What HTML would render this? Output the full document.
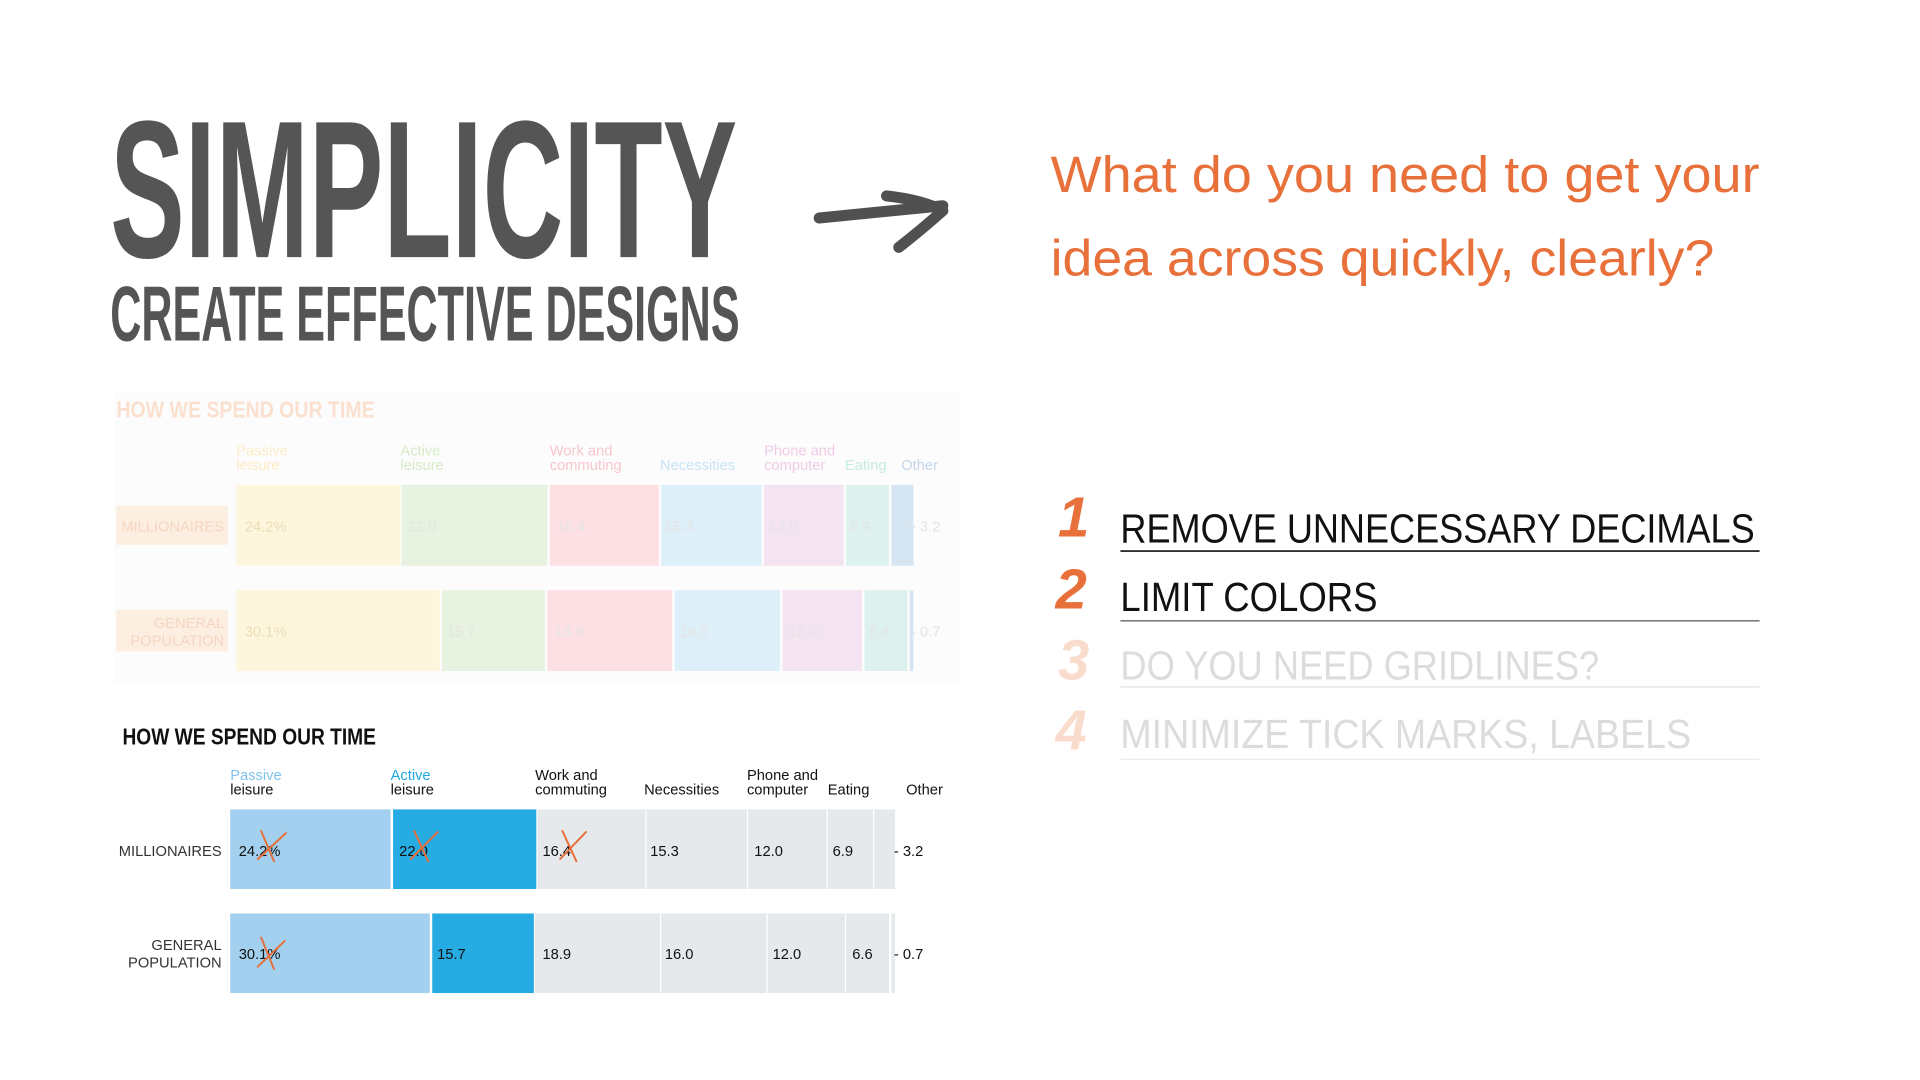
<!DOCTYPE html>
<html><head><meta charset="utf-8"><style>
html,body{margin:0;padding:0;background:#fff;width:1920px;height:1080px;overflow:hidden}
svg{display:block}
text{font-family:"Liberation Sans",sans-serif}
</style></head><body>
<svg width="1920" height="1080" viewBox="0 0 1568 882" xmlns="http://www.w3.org/2000/svg">
<rect width="1568" height="882" fill="#fff"/>
<!-- titles -->
<text x="90" y="210" font-size="160" font-weight="bold" fill="#555" textLength="512" lengthAdjust="spacingAndGlyphs">SIMPLICITY</text>
<text x="90" y="278" font-size="64" font-weight="bold" fill="#555" textLength="514" lengthAdjust="spacingAndGlyphs">CREATE  EFFECTIVE  DESIGNS</text>
<!-- arrow -->
<path d="M669 178 L770 168" stroke="#505050" stroke-width="9" stroke-linecap="round" fill="none"/>
<path d="M724 160 Q752 163 770 172 Q752 188 734 202" stroke="#505050" stroke-width="9" stroke-linecap="round" stroke-linejoin="round" fill="none"/>
<!-- question -->
<text x="858" y="157" font-size="42" fill="#e8703a" textLength="579" lengthAdjust="spacingAndGlyphs">What do you need to get your</text>
<text x="858" y="225" font-size="42" fill="#e8703a" textLength="542" lengthAdjust="spacingAndGlyphs">idea across quickly, clearly?</text>
<!-- list -->
<g font-style="italic" font-weight="bold" font-size="46">
<text x="864" y="438" fill="#e8703a">1</text>
<text x="862" y="497" fill="#e8703a">2</text>
<text x="864" y="555" fill="#fadccd">3</text>
<text x="862" y="612" fill="#fadccd">4</text>
</g>
<text x="915" y="443" font-size="33" fill="#111" textLength="518" lengthAdjust="spacingAndGlyphs">REMOVE UNNECESSARY DECIMALS</text>
<line x1="915" y1="450" x2="1437" y2="450" stroke="#111" stroke-width="1.3"/>
<text x="915" y="499" font-size="33" fill="#111" textLength="210" lengthAdjust="spacingAndGlyphs">LIMIT COLORS</text>
<line x1="915" y1="507" x2="1437" y2="507" stroke="#666" stroke-width="1.2"/>
<text x="915" y="555" font-size="33" fill="#dcdcdc" textLength="391" lengthAdjust="spacingAndGlyphs">DO YOU NEED GRIDLINES?</text>
<line x1="915" y1="561" x2="1437" y2="561" stroke="#ddd" stroke-width="1"/>
<text x="915" y="611" font-size="33" fill="#dcdcdc" textLength="466" lengthAdjust="spacingAndGlyphs">MINIMIZE TICK MARKS, LABELS</text>
<line x1="915" y1="620" x2="1437" y2="620" stroke="#e6e6e6" stroke-width="1"/>

<!-- faded chart -->
<rect x="93" y="320" width="690" height="237" fill="#fcfcfc"/>
<text x="95" y="341" font-size="19" font-weight="bold" fill="#fbe0cf" textLength="211" lengthAdjust="spacingAndGlyphs">HOW WE SPEND OUR TIME</text>
<g font-size="12">
<text x="193" y="372" fill="#fdecc4">Passive</text><text x="193" y="384" fill="#fdecc4">leisure</text>
<text x="327" y="372" fill="#d6ebc8">Active</text><text x="327" y="384" fill="#d6ebc8">leisure</text>
<text x="449" y="372" fill="#f8c6cc">Work and</text><text x="449" y="384" fill="#f8c6cc">commuting</text>
<text x="539" y="384" fill="#c6e4f3">Necessities</text>
<text x="624" y="372" fill="#efcbe6">Phone and</text><text x="624" y="384" fill="#efcbe6">computer</text>
<text x="690" y="384" fill="#c6ebe3">Eating</text>
<text x="736" y="384" fill="#c4d6ea">Other</text>
</g>
<rect x="95" y="413" width="91" height="32" fill="#fdeee2"/>
<text x="99" y="434" font-size="12" fill="#f5d6c0">MILLIONAIRES</text>
<rect x="95" y="498" width="91" height="34" fill="#fdeee2"/>
<text x="183" y="513" font-size="12" fill="#f5d6c0" text-anchor="end">GENERAL</text>
<text x="183" y="527" font-size="12" fill="#f5d6c0" text-anchor="end">POPULATION</text>
<g>
<rect x="193" y="396" width="134" height="66" fill="#fef6dc"/>
<rect x="328" y="396" width="119" height="66" fill="#e7f3e0"/>
<rect x="449" y="396" width="89" height="66" fill="#fde0e3"/>
<rect x="540" y="396" width="82" height="66" fill="#ddeff8"/>
<rect x="624" y="396" width="65" height="66" fill="#f4e3f0"/>
<rect x="691" y="396" width="35" height="66" fill="#ddf2ee"/>
<rect x="728" y="396" width="18" height="66" fill="#d6e5f2"/>
<rect x="193" y="482" width="166" height="66" fill="#fef6dc"/>
<rect x="361" y="482" width="84" height="66" fill="#e7f3e0"/>
<rect x="447" y="482" width="102" height="66" fill="#fde0e3"/>
<rect x="551" y="482" width="86" height="66" fill="#ddeff8"/>
<rect x="639" y="482" width="65" height="66" fill="#f4e3f0"/>
<rect x="706" y="482" width="35" height="66" fill="#ddf2ee"/>
<rect x="743" y="482" width="3" height="66" fill="#d6e5f2"/>
</g>
<g font-size="12" fill="#e4e4e4">
<text x="200" y="434" fill="#ecdcb8">24.2%</text><text x="333" y="434">22.0</text><text x="455" y="434">16.4</text><text x="543" y="434">15.3</text><text x="628" y="434">12.0</text><text x="694" y="434">6.9</text><text x="744" y="434">- 3.2</text>
<text x="200" y="520" fill="#ecdcb8">30.1%</text><text x="365" y="520">15.7</text><text x="453" y="520">18.9</text><text x="555" y="520">16.0</text><text x="644" y="520">12.0</text><text x="710" y="520">6.6</text><text x="744" y="520">- 0.7</text>
</g>

<!-- main chart -->
<text x="100" y="608" font-size="19" font-weight="bold" fill="#111" textLength="207" lengthAdjust="spacingAndGlyphs">HOW WE SPEND OUR TIME</text>
<g font-size="12" fill="#111">
<text x="188" y="637" fill="#7fc3ec">Passive</text><text x="188" y="649">leisure</text>
<text x="319" y="637" fill="#1ea6e0">Active</text><text x="319" y="649">leisure</text>
<text x="437" y="637">Work and</text><text x="437" y="649">commuting</text>
<text x="526" y="649">Necessities</text>
<text x="610" y="637">Phone and</text><text x="610" y="649">computer</text>
<text x="676" y="649">Eating</text>
<text x="740" y="649">Other</text>
<text x="181" y="699" text-anchor="end" fill="#333">MILLIONAIRES</text>
<text x="181" y="776" text-anchor="end" fill="#333">GENERAL</text>
<text x="181" y="790" text-anchor="end" fill="#333">POPULATION</text>
</g>
<g>
<rect x="188" y="661" width="131" height="65" fill="#a2d0ee"/>
<rect x="321" y="661" width="117" height="65" fill="#26abe2"/>
<rect x="439" y="661" width="88" height="65" fill="#e6e9ec"/>
<rect x="528" y="661" width="82" height="65" fill="#e6e9ec"/>
<rect x="611" y="661" width="64" height="65" fill="#e6e9ec"/>
<rect x="676" y="661" width="37" height="65" fill="#e6e9ec"/>
<rect x="714" y="661" width="17" height="65" fill="#e6e9ec"/>
<rect x="188" y="746" width="163" height="65" fill="#a2d0ee"/>
<rect x="353" y="746" width="83" height="65" fill="#26abe2"/>
<rect x="437" y="746" width="102" height="65" fill="#e6e9ec"/>
<rect x="540" y="746" width="86" height="65" fill="#e6e9ec"/>
<rect x="627" y="746" width="63" height="65" fill="#e6e9ec"/>
<rect x="691" y="746" width="35" height="65" fill="#e6e9ec"/>
<rect x="728" y="746" width="3" height="65" fill="#e6e9ec"/>
</g>
<g font-size="12" fill="#111">
<text x="195" y="699">24.2%</text><text x="326" y="699">22.0</text><text x="443" y="699">16.4</text><text x="531" y="699">15.3</text><text x="616" y="699">12.0</text><text x="680" y="699">6.9</text><text x="730" y="699">- 3.2</text>
<text x="195" y="783">30.1%</text><text x="357" y="783">15.7</text><text x="443" y="783">18.9</text><text x="543" y="783">16.0</text><text x="631" y="783">12.0</text><text x="696" y="783">6.6</text><text x="730" y="783">- 0.7</text>
</g>
<g stroke="#e8703a" stroke-width="1.6" fill="none">
<path d="M213 678 L224 704 M210 702 L234 680"/>
<path d="M338 678 L350 704 M335 702 L358 679"/>
<path d="M459 678 L471 704 M457 702 L479 679"/>
<path d="M213 765 L224 792 M210 790 L233 768"/>
</g>
</svg>
</body></html>
